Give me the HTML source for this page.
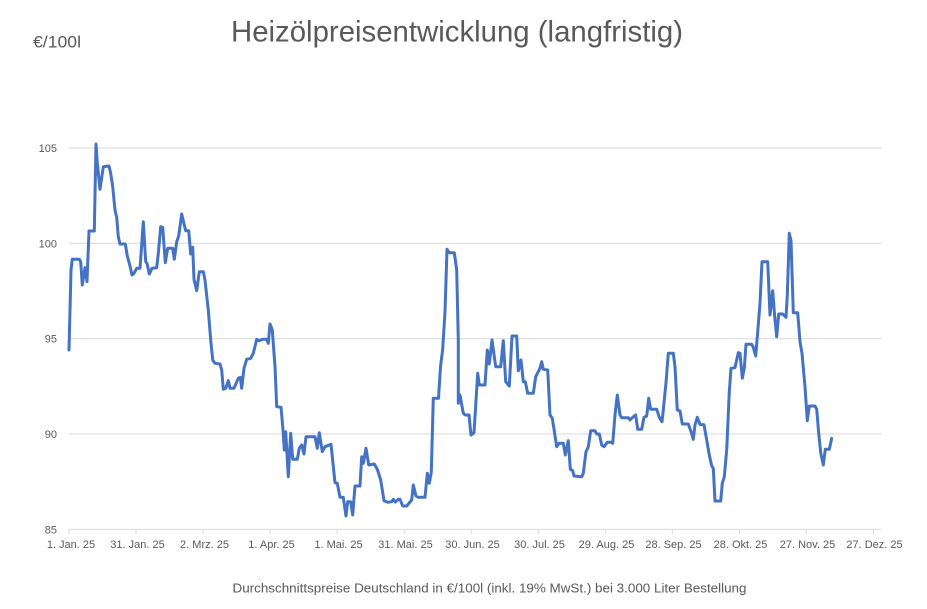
<!DOCTYPE html>
<html>
<head>
<meta charset="utf-8">
<style>
  html,body{margin:0;padding:0;background:#fff;}
  svg{display:block;}
  text{font-family:"Liberation Sans", sans-serif;fill:#595959;}
</style>
</head>
<body>
<svg width="927" height="609" viewBox="0 0 927 609" xmlns="http://www.w3.org/2000/svg">
  <rect width="927" height="609" fill="#fff"/>
  <!-- title -->
  <text x="231" y="41.5" font-size="30" textLength="452" lengthAdjust="spacingAndGlyphs">Heizölpreisentwicklung (langfristig)</text>
  <text x="33" y="47.5" font-size="16.5" textLength="48" lengthAdjust="spacingAndGlyphs">€/100l</text>

  <!-- gridlines -->
  <g stroke="#d9d9d9" stroke-width="1">
    <line x1="69" y1="148" x2="882" y2="148"/>
    <line x1="69" y1="243.3" x2="882" y2="243.3"/>
    <line x1="69" y1="338.7" x2="882" y2="338.7"/>
    <line x1="69" y1="434" x2="882" y2="434"/>
    <line x1="69" y1="529.3" x2="882" y2="529.3"/>
    <line x1="69" y1="529" x2="69" y2="534"/>
    <line x1="136" y1="529" x2="136" y2="534"/>
    <line x1="203.1" y1="529" x2="203.1" y2="534"/>
    <line x1="270.1" y1="529" x2="270.1" y2="534"/>
    <line x1="337.1" y1="529" x2="337.1" y2="534"/>
    <line x1="404.2" y1="529" x2="404.2" y2="534"/>
    <line x1="471.2" y1="529" x2="471.2" y2="534"/>
    <line x1="538.2" y1="529" x2="538.2" y2="534"/>
    <line x1="605.3" y1="529" x2="605.3" y2="534"/>
    <line x1="672.3" y1="529" x2="672.3" y2="534"/>
    <line x1="739.3" y1="529" x2="739.3" y2="534"/>
    <line x1="806.3" y1="529" x2="806.3" y2="534"/>
    <line x1="873.4" y1="529" x2="873.4" y2="534"/>
  </g>

  <!-- y labels -->
  <g font-size="11" text-anchor="end">
    <text x="57" y="152">105</text>
    <text x="57" y="247.3">100</text>
    <text x="57" y="342.7">95</text>
    <text x="57" y="438">90</text>
    <text x="57" y="533.3">85</text>
  </g>

  <!-- x labels -->
  <g font-size="11" text-anchor="middle">
    <text x="71" y="548">1. Jan. 25</text>
    <text x="137.5" y="548">31. Jan. 25</text>
    <text x="204.5" y="548">2. Mrz. 25</text>
    <text x="271.5" y="548">1. Apr. 25</text>
    <text x="338.5" y="548">1. Mai. 25</text>
    <text x="405.5" y="548">31. Mai. 25</text>
    <text x="472.5" y="548">30. Jun. 25</text>
    <text x="539.5" y="548">30. Jul. 25</text>
    <text x="606.5" y="548">29. Aug. 25</text>
    <text x="673.5" y="548">28. Sep. 25</text>
    <text x="740.5" y="548">28. Okt. 25</text>
    <text x="807.5" y="548">27. Nov. 25</text>
    <text x="874.5" y="548">27. Dez. 25</text>
  </g>

  <!-- series -->
  <polyline fill="none" stroke="#4472C4" stroke-width="3" stroke-linejoin="round" stroke-linecap="round" points="
69,350 71,270 72.3,259.3 79.3,259.3 80.7,261.7 82.3,285 85,267.7 87,281.7 89,231 94.3,231 96,144 97.3,163.3 100,189.3 103.3,166.7 109,166 110.7,173.3 112.7,186.7 115,210 116.7,217.3 118.3,236.7 120,244 125.3,244 127.3,256 130,266 132,275 134,273.3 136.7,268.3 140,268.3 143.3,221.7 145.7,261.7 147,263.3 149.3,274 152,268.3 156.7,267.7 158.3,253.3 160.7,226.7 162.7,227.3 165.3,262.7 167.7,248.3 172.7,248.3 174.3,259.3 176.7,241.7 178.7,236 181.7,214 184.3,225 185.7,230.7 188.7,230.7 190.7,254 192.7,247.3 194,279.3 196.7,290.7 199.3,271.7 203.3,271.7 205,280 208.3,310 210.7,340 212.7,360 215,363.3 220,364 221.7,370 223.3,389.3 225.7,388.3 228.3,380.7 230,388.3 234,388.3 238.3,378.3 240.3,377.3 241.7,388.3 244,368.3 246.7,359.3 250.7,358.3 253.3,353.3 256.7,339.3 259,340.7 262.7,339.3 266.7,339.3 268.3,343.3 270,324 272.3,330 275,366.7 276.7,406.7 281,407.3 283.3,433.3 284.3,450 285.7,431.7 288.3,476.7 290.7,433.3 292.7,459.3 297.3,459.3 299.3,448.3 301.7,445 304,454 306,436.7 315,436.7 317.3,448.3 319.3,432.7 322.3,451.7 325,446.7 331,444.3 335,482.7 337.3,483.3 340,497.3 343.3,497.3 346,516 347.7,501.7 350.7,501.7 352.7,515 355,486 360,486 361.7,456.7 363.3,463.3 366,448.3 368.7,465 374.3,464 377.3,469.3 380.7,480 384,500.7 387.7,502.3 391.7,501.7 393.3,499.3 395.3,502 398.3,499.3 400,499.3 402.7,506 406.7,506 411.7,500 413.3,485 416,496 418.3,497.3 425,497.3 427.3,473.3 429.3,483.3 431.3,472 433.3,398.3 438.5,398.3 440.5,366.7 442.7,349 445,311.7 447,249.3 449.3,252.7 454.3,252.7 456.7,270 458.3,340 458.3,403.3 460,395 463.3,413.3 465.3,415 469,415 471,435 474,432.7 477.7,373.3 479.3,385 485,385 487.3,350 489.3,364 492,340 495.7,366.7 500.7,366.7 503.3,340.7 505.7,381.7 509.3,386 512,336 516.7,336 518.3,370.7 521,360 523.3,381.7 525.3,381.7 527.7,393.3 533.3,393.3 535.7,376.7 540,368.3 541.7,361.7 543.3,369.3 547.7,370 550,415 552.3,418.3 556.7,446.7 559,443.3 563.3,443.3 565.3,455 568.3,440.7 570.3,469.3 572.7,470.7 574,476 581.7,476.7 583.3,473.3 586,451.7 588.3,446.7 590.7,430.7 595,430.7 596.7,434 599.3,434 601.7,445 604,446.7 607.3,442.3 611.7,442.3 612.7,443.3 615,415 617.3,395 620,415 621.7,417.7 628.3,417.7 630,420 632.7,417.3 635.7,415 637.7,429.3 641.7,429.3 644,417.3 646.7,416 648.7,398.3 650.7,409.3 656.7,409.3 659.3,417.3 662,421.7 663.3,410 666,382.7 668.3,353.3 673.3,353.3 675,366.7 677.3,410 680,411 682.3,424 688.3,424 690.7,430.7 693.3,439.3 695,425 697.3,417.3 700,424.5 704,424.7 706.7,440 709.3,455 711.7,466 713.3,468.3 715,501 720.7,501 722.3,483.3 724.3,476.7 726.7,450 729.3,391.7 731,368.3 735,367.7 738.3,352.7 740,353.3 742.3,378.3 744.3,368.3 746,344.3 751.7,344.3 753.3,347.3 755.7,356 757.3,336.7 760,303.3 762,261.7 767.7,261.7 770,315 772.7,290.7 774.7,316.7 776.7,336.7 778.7,314 782.7,314 786,317.3 787.3,295 789.3,233.3 791,240.7 793.3,312.7 797.7,312.7 800,341.7 802,353.3 805,386.7 807.3,420.7 809.3,406 815,406 816.7,409.3 818.7,433.3 820.7,452.7 823.3,465 825.3,449.3 829.3,449.3 831.7,438.3"/>

  <!-- caption -->
  <text x="232.5" y="592.5" font-size="13" textLength="514" lengthAdjust="spacingAndGlyphs">Durchschnittspreise Deutschland in €/100l (inkl. 19% MwSt.) bei 3.000 Liter Bestellung</text>
</svg>
</body>
</html>
